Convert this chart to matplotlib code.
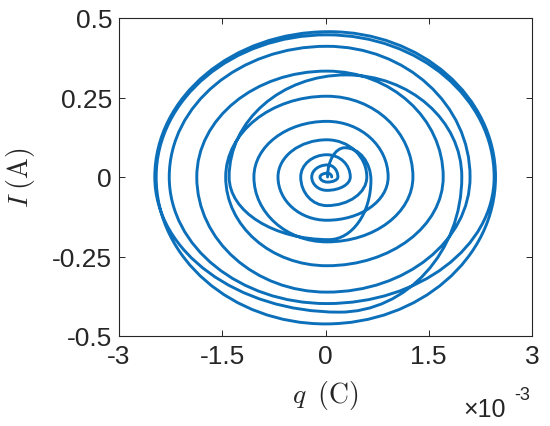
import matplotlib
matplotlib.use("Agg")
import matplotlib.pyplot as plt
from matplotlib.path import Path
from matplotlib.patches import PathPatch

# Turning points of the trajectory (q in 1e-3 C, I in A).
# Sequence: start, then top, right, bottom, left, top, ... (clockwise)
q_pts = [0.03, 0.28, 0.66, 0.05, -1.40, 0.30, 1.98, 0.20, -2.48, 0.05, 2.47, 0.00,
         -2.46, 0.02, 2.45, 0.02, -2.27, 0.02, 2.10, 0.02, -1.87, 0.02, 1.71, 0.02,
         -1.45, 0.02, 1.27, 0.02, -1.04, 0.02, 0.91, 0.02, -0.69, 0.02, 0.60, 0.02,
         -0.36, 0.02, 0.36, 0.02, -0.20, 0.03, 0.18, 0.03, -0.08, 0.03, 0.09]
I_pts = [0.0, 0.092, -0.01, -0.197, 0.0, 0.321, 0.0, -0.425, 0.0, 0.457, 0.0, -0.462,
         0.0, 0.447, 0.0, -0.398, 0.0, 0.411, 0.0, -0.362, 0.0, 0.333, 0.0, -0.279,
         0.0, 0.254, 0.0, -0.204, 0.0, 0.175, 0.0, -0.136, 0.0, 0.117, 0.0, -0.09,
         0.0, 0.07, 0.0, -0.042, 0.0, 0.038, 0.0, -0.016, 0.0, 0.012, 0.0]

xticks = [-3, -1.5, 0, 1.5, 3]
xticklabels = ["-3", "-1.5", "0", "1.5", "3"]
yticks = [-0.5, -0.25, 0, 0.25, 0.5]
yticklabels = ["-0.5", "-0.25", "0", "0.25", "0.5"]

plt.rcParams['font.family'] = ['Liberation Sans', 'DejaVu Sans']
plt.rcParams['mathtext.fontset'] = 'cm'

fig = plt.figure(figsize=(5.5, 4.27), dpi=100)
ax = fig.add_axes([119/550, 1-337/427, 413/550, 318/427])

# Build quarter-ellipse cubic Bezier path through the turning points
K = 0.5523
verts = [(q_pts[0], I_pts[0])]
codes = [Path.MOVETO]
for i in range(len(q_pts) - 1):
    x0, y0 = q_pts[i], I_pts[i]
    x1, y1 = q_pts[i + 1], I_pts[i + 1]
    if i % 2 == 0:  # start point has vertical tangent, end horizontal
        c1 = (x0, y0 + K * (y1 - y0))
        c2 = (x1 + K * (x0 - x1), y1)
    else:           # start point has horizontal tangent, end vertical
        c1 = (x0 + K * (x1 - x0), y0)
        c2 = (x1, y1 + K * (y0 - y1))
    verts += [c1, c2, (x1, y1)]
    codes += [Path.CURVE4, Path.CURVE4, Path.CURVE4]
ax.add_patch(PathPatch(Path(verts, codes), fill=False, edgecolor='#0C6FB9',
                       lw=2.1, capstyle='round', joinstyle='round'))

ax.set_xlim(-3, 3)
ax.set_ylim(-0.5, 0.5)
ax.set_xticks(xticks)
ax.set_xticklabels(xticklabels)
ax.set_yticks(yticks)
ax.set_yticklabels(yticklabels)
ax.tick_params(direction='in', length=4, width=0.7, colors='#262626',
               labelsize=19, top=True, right=True, pad=6)
ax.tick_params(axis='y', pad=5)
for s in ax.spines.values():
    s.set_color('#262626')
    s.set_linewidth(0.8)

ax.set_xlabel(r'$q\;\;\mathrm{(C)}$', fontsize=20, color='#262626', labelpad=7)
ax.set_ylabel(r'$I\;\mathrm{(A)}$', fontsize=20, color='#262626', labelpad=11)

fig.text(463/550, 1-410/427, '\u00d710', fontsize=18, color='#262626',
         va='center', ha='left')
fig.text(514/550, 1-396/427, '-3', fontsize=13, color='#262626',
         va='center', ha='left')

fig.savefig('out.png', dpi=100)
